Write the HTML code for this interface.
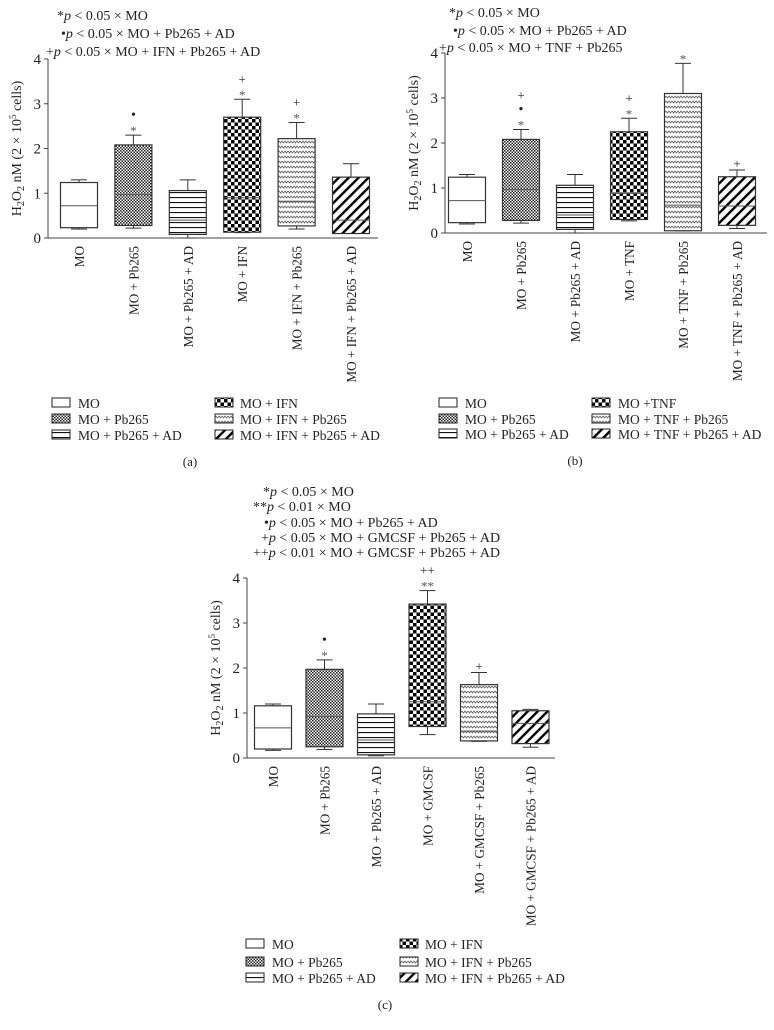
<!DOCTYPE html>
<html><head><meta charset="utf-8"><style>
html,body{margin:0;padding:0;background:#fff;}
svg{display:block;font-family:"Liberation Serif",serif;}
</style></head><body>
<svg id="fig" width="774" height="1030" viewBox="0 0 774 1030" xmlns="http://www.w3.org/2000/svg">
<defs>
<pattern id="p-fine" width="3" height="3" patternUnits="userSpaceOnUse"><rect width="3" height="3" fill="#fff"/><rect width="1.5" height="1.5" fill="#222"/><rect x="1.5" y="1.5" width="1.5" height="1.5" fill="#222"/></pattern>
<pattern id="p-hlines" width="6" height="5" patternUnits="userSpaceOnUse"><rect width="6" height="5" fill="#fff"/><rect y="2" width="6" height="1.1" fill="#111"/></pattern>
<pattern id="p-check" width="7" height="7" patternUnits="userSpaceOnUse"><rect width="7" height="7" fill="#fff"/><rect width="3.5" height="3.5" fill="#000"/><rect x="3.5" y="3.5" width="3.5" height="3.5" fill="#000"/></pattern>
<pattern id="p-stipple" width="6" height="5" patternUnits="userSpaceOnUse"><rect width="6" height="5" fill="#fff"/><path d="M0 1 L1.5 3 L3 1 L4.5 3 L6 1" stroke="#555" stroke-width="0.8" fill="none"/></pattern>
<pattern id="p-diag" width="7" height="7" patternUnits="userSpaceOnUse" patternTransform="rotate(45)"><rect width="7" height="7" fill="#fff"/><rect width="2.4" height="7" fill="#000"/></pattern>
</defs>
</svg>
<script>
// ---- data ----
const catsA = ["MO","MO + Pb265","MO + Pb265 + AD","MO + IFN","MO + IFN + Pb265","MO + IFN + Pb265 + AD"];
const catsB = ["MO","MO + Pb265","MO + Pb265 + AD","MO + TNF","MO + TNF + Pb265","MO + TNF + Pb265 + AD"];
const catsC = ["MO","MO + Pb265","MO + Pb265 + AD","MO + GMCSF","MO + GMCSF + Pb265","MO + GMCSF + Pb265 + AD"];
const minA = [0.2,0.22,0.0,0.12,0.2,0.1];
const q1A = [0.23,0.28,0.08,0.13,0.27,0.1];
const medA = [0.72,0.97,0.4,0.9,0.82,0.4];
const q3A = [1.24,2.08,1.06,2.7,2.22,1.36];
const maxA = [1.3,2.3,1.3,3.1,2.58,1.66];
const sigA = [[],["*","•"],[],["*","+"],["*","+"],[]];
const minB = [0.2,0.22,0.0,0.27,0.05,0.1];
const q1B = [0.23,0.28,0.08,0.3,0.05,0.17];
const medB = [0.72,0.97,0.4,0.88,0.62,0.6];
const q3B = [1.24,2.08,1.06,2.25,3.1,1.25];
const maxB = [1.3,2.3,1.3,2.55,3.77,1.4];
const sigB = [[],["*","•","+"],[],["*","+"],["*"],["+"]];
const minC = [0.17,0.19,0.05,0.52,0.37,0.24];
const q1C = [0.2,0.25,0.07,0.7,0.38,0.32];
const medC = [0.67,0.92,0.4,1.25,0.6,0.77];
const q3C = [1.16,1.97,0.98,3.42,1.63,1.05];
const maxC = [1.2,2.18,1.2,3.72,1.9,1.08];
const sigC = [[],["*","•"],[],["**","++"],["+"],[]];
const yTicks = [0,1,2,3,4];
const fills = ["#fff","url(#p-fine)","url(#p-hlines)","url(#p-check)","url(#p-stipple)","url(#p-diag)"];

const NS="http://www.w3.org/2000/svg";
const svg=document.getElementById('fig');
function mk(tag,attrs,parent){const e=document.createElementNS(NS,tag);for(const k in attrs)e.setAttribute(k,attrs[k]);(parent||svg).appendChild(e);return e;}
function txt(str,attrs,parent){const e=mk('text',attrs,parent);e.textContent=str;return e;}

function panel(id,cfg,cats,mins,q1s,meds,q3s,maxs,sigs){
  const g=mk('g',{});
  
  
  const y=v=>cfg.y0-(cfg.y0-cfg.y4)*v/4;
  const x=i=>cfg.x0+cfg.step*i;
  const ax=mk('line',{x1:cfg.ax,y1:cfg.y4,x2:cfg.ax,y2:cfg.y0,stroke:'#444','stroke-width':1},g);
  
  
  const bx=mk('line',{x1:cfg.ax,y1:cfg.y0,x2:cfg.axEnd,y2:cfg.y0,stroke:'#444','stroke-width':1},g);
  
  
  yTicks.forEach(t=>{
    mk('line',{x1:cfg.ax-4,y1:y(t),x2:cfg.ax,y2:y(t),stroke:'#444'},g);
    const tl=txt(String(t),{x:cfg.ax-7,y:y(t)+5,'font-size':15,'text-anchor':'end',fill:'#222'},g);
    
    
  });
  const yt=txt('',{transform:`translate(${cfg.ax-27},${(cfg.y0+cfg.y4)/2}) rotate(-90)`,'font-size':14,'text-anchor':'middle',fill:'#222'},g);
  yt.innerHTML='H<tspan font-size="10" dy="3">2</tspan><tspan dy="-3">O</tspan><tspan font-size="10" dy="3">2</tspan><tspan dy="-3"> nM (2 × 10</tspan><tspan font-size="9" dy="-5">5</tspan><tspan dy="5"> cells)</tspan>';
  
  
  cats.forEach((c,i)=>{
    const cx=x(i),w=cfg.bw;
    const wh=mk('line',{x1:cx,y1:y(maxs[i]),x2:cx,y2:y(mins[i]),stroke:'#333'},g);
    
    
    mk('line',{x1:cx-8,y1:y(maxs[i]),x2:cx+8,y2:y(maxs[i]),stroke:'#333'},g);
    mk('line',{x1:cx-8,y1:y(mins[i]),x2:cx+8,y2:y(mins[i]),stroke:'#333'},g);
    const b=mk('rect',{x:cx-w/2,y:y(q3s[i]),width:w,height:y(q1s[i])-y(q3s[i]),fill:fills[i],stroke:'#333','stroke-width':1.2},g);
    
    
    mk('line',{x1:cx-w/2,y1:y(meds[i]),x2:cx+w/2,y2:y(meds[i]),stroke:'#555'},g);
    sigs[i].forEach((s,k)=>{
      const m=txt(s,{x:cx,y:y(maxs[i])-6-14*k+(s.indexOf('*')>=0?6:4),'font-size':s=='•'?14:13,'text-anchor':'middle',fill:s.indexOf('*')>=0?'#555':'#222'},g);
      
      
    });
    const lb=txt(c,{transform:`translate(${cx+5},${cfg.y0+8}) rotate(-90)`,'font-size':13.2,'text-anchor':'end',fill:'#222'},g);
    
    
  });
  return g;
}
panel('a',{ax:48,axEnd:378,y0:238,y4:59,x0:79,step:54.4,bw:37},catsA,minA,q1A,medA,q3A,maxA,sigA);
panel('b',{ax:445,axEnd:767,y0:233,y4:53,x0:467,step:54,bw:37},catsB,minB,q1B,medB,q3B,maxB,sigB);
panel('c',{ax:247,axEnd:555,y0:758,y4:578,x0:273,step:51.5,bw:37},catsC,minC,q1C,medC,q3C,maxC,sigC);

function annot(lines,xs,ys){
  lines.forEach((l,i)=>{
    const t=txt('',{x:xs[i],y:ys[i],'font-size':14,fill:'#222'});
    t.innerHTML=l[0]+'<tspan font-style="italic">p</tspan>'+l[1];
    
    
  });
}
annot([["*"," < 0.05 × MO"],["•"," < 0.05 × MO + Pb265 + AD"],["+"," < 0.05 × MO + IFN + Pb265 + AD"]],[57,61,46],[20,38,56]);
annot([["*"," < 0.05 × MO"],["•"," < 0.05 × MO + Pb265 + AD"],["+"," < 0.05 × MO + TNF + Pb265"]],[449,453,439],[17,35,52]);
annot([["*"," < 0.05 × MO"],["**"," < 0.01 × MO"],["•"," < 0.05 × MO + Pb265 + AD"],["+"," < 0.05 × MO + GMCSF + Pb265 + AD"],["++"," < 0.01 × MO + GMCSF + Pb265 + AD"]],[263,253,264,261,253],[496,511,527,542,557]);

function legend(labels,sx1,tx1,sx2,tx2,ys,capX,capY,cap){
  labels.forEach((l,i)=>{
    const col=i<3?0:1,row=i%3;
    const sx=col?sx2:sx1,tx=col?tx2:tx1,yy=ys[row];
    const r=mk('rect',{x:sx,y:yy-5,width:18,height:9,fill:fills[i],stroke:'#222'});
    
    
    const t=txt(l,{x:tx,y:yy+5,'font-size':13.5,fill:'#222'});
    
    
  });
  const c=txt(cap,{x:capX,y:capY,'font-size':13,'text-anchor':'middle',fill:'#222'});
  
  
}
legend(["MO","MO + Pb265","MO + Pb265 + AD","MO + IFN","MO + IFN + Pb265","MO + IFN + Pb265 + AD"],52,78,215,240,[403,419,435],190,466,"(a)");
legend(["MO","MO + Pb265","MO + Pb265 + AD","MO +TNF","MO + TNF + Pb265","MO + TNF + Pb265 + AD"],439,465,592,618,[403,419,434],575,465,"(b)");
legend(["MO","MO + Pb265","MO + Pb265 + AD","MO + IFN","MO + IFN + Pb265","MO + IFN + Pb265 + AD"],246,272,400,425,[944,962,978],385,1009,"(c)");
</script>
</body></html>
